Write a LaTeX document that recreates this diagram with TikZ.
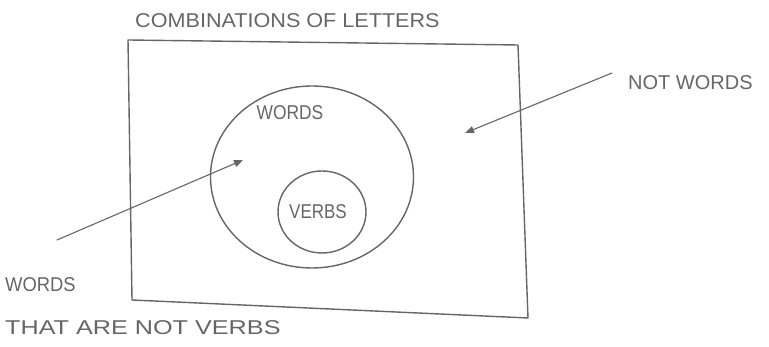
\documentclass[tikz,border=0pt]{standalone}
\usepackage{fontspec}
\setmainfont{Liberation Sans}
\usetikzlibrary{arrows.meta,shapes.geometric}
\definecolor{pencil}{HTML}{666666}
\tikzset{
  sketch/.style={draw=pencil, line width=1.4pt, line join=round, line cap=round},
  lbl/.style={text=pencil, font=\fontsize{20}{24}\selectfont, inner sep=0pt},
  arr/.style={sketch, line width=1.1pt, -{Triangle[length=9pt,width=7pt]}}
}
\begin{document}
\begin{tikzpicture}[x=1pt,y=1pt]
\useasboundingbox (0,0) rectangle (769,347);
% outer set (hand drawn rectangle)
\coordinate (r1) at (128,307);
\coordinate (r2) at (518,302);
\coordinate (r3) at (528,29);
\coordinate (r4) at (132,47);
\draw[sketch] (r1) -- (r2) -- (r3) -- (r4) -- cycle;
% circles
\node[sketch, ellipse, minimum width=203pt, minimum height=182pt, inner sep=0pt] (words) at (312,170) {};
\node[sketch, ellipse, minimum width=88pt, minimum height=82pt, inner sep=0pt] (verbs) at (322,135) {};
% labels
\node[lbl, anchor=west] (title) at (135,326) {\scalebox{1.08}[1]{COMBINATIONS OF LETTERS}};
\node[lbl] (lwords) at (290,234) {\scalebox{0.87}[1]{WORDS}};
\node[lbl] (lverbs) at (318,135) {\scalebox{0.85}[1]{VERBS}};
\node[lbl, anchor=west] (notwords) at (628,264) {NOT WORDS};
\node[lbl, anchor=west] (w2) at (5,62) {\scalebox{0.92}[1]{WORDS}};
\node[lbl, anchor=west] (w3) at (5,19) {\scalebox{1.26}[1]{THAT ARE NOT VERBS}};
% arrows
\coordinate (a1s) at (57,107);
\coordinate (a1e) at (243,187);
\coordinate (a2s) at (612,274);
\coordinate (a2e) at (465,214);
\draw[arr] (a1s) -- (a1e);
\draw[arr] (a2s) -- (a2e);
\end{tikzpicture}
\end{document}
